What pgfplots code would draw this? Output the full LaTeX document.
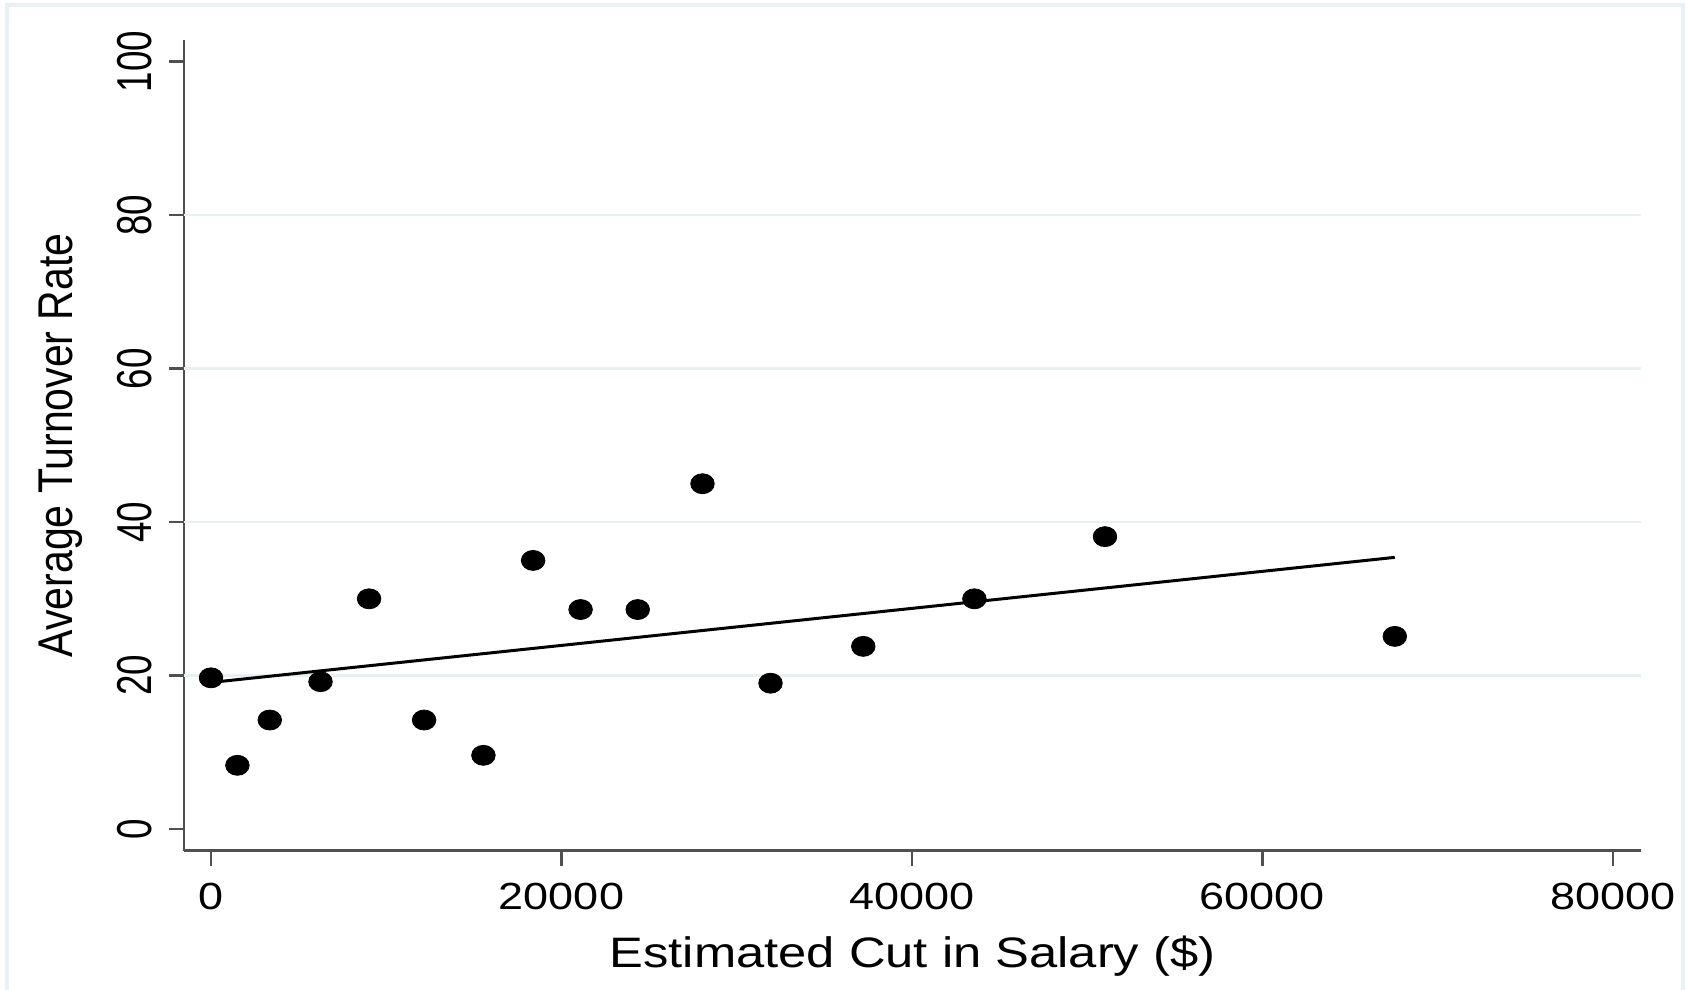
\documentclass[border=0pt]{standalone}
\usepackage{pgfplots}
\pgfplotsset{compat=1.18}
\usepackage{fontspec}
\setmainfont{Liberation Sans}[FakeStretch=1.19]
\newfontfamily\rotfont{Liberation Sans}[FakeStretch=0.84]
\newfontfamily\rotfontB{Liberation Sans}[FakeStretch=0.75]
\definecolor{gridc}{RGB}{232,240,242}
\definecolor{framec}{RGB}{234,241,243}
\definecolor{axc}{RGB}{80,80,80}

\pgfplotstableread{
x y
0 19.7
1506 8.3
3353 14.2
6248 19.2
9020 30.0
12160 14.2
15545 9.6
18380 35.0
21089 28.6
24350 28.6
28045 45.0
31926 19.0
37220 23.8
43560 30.0
51012 38.1
67550 25.1
}\pts

\pgfplotstableread{
x y
0 19.1
67550 35.4
}\fitline

\begin{document}
\begin{tikzpicture}
\useasboundingbox (-92pt,-69.65pt) rectangle (754pt,425.35pt);
\draw[framec, line width=2pt] (-88.5pt,-75pt) -- (-88.5pt,422.85pt) -- (749.5pt,422.85pt) -- (749.5pt,-75pt);
\begin{axis}[
  scale only axis,
  width=728.5pt, height=405.35pt,
  xmin=-1541, xmax=81598,
  ymin=-2.83, ymax=102.83,
  axis x line*=bottom, axis y line*=left,
  axis line style={axc, line width=1.3pt},
  scaled x ticks=false, scaled y ticks=false,
  xtick={0,20000,40000,60000,80000},
  xticklabels={0,20000,40000,60000,80000},
  ytick={0,20,40,60,80,100},
  yticklabels={0,20,40,60,80,100},
  tick align=outside,
  major tick length=7.5pt,
  tick style={axc, line width=1.3pt},
  xticklabel style={anchor=base, font=\fontsize{18.9pt}{22pt}\selectfont, text=black},
  xticklabel shift=21.8pt,
  yticklabel style={rotate=90, anchor=base, font=\rotfontB\fontsize{24.5pt}{28pt}\selectfont, text=black},
  yticklabel shift=8.6pt,
  extra y ticks={20,40,60,80},
  extra y tick labels={},
  extra y tick style={grid=major, major tick length=0pt, major grid style={gridc, line width=1.2pt}},
  every axis x label/.style={at={(axis description cs:0.5,0)}, anchor=base, yshift=-58.2pt},
  every axis y label/.style={at={(axis description cs:-0.0848,0.5)}, rotate=90, anchor=center},
  xlabel={\fontsize{21.3pt}{25pt}\selectfont Estimated Cut in Salary (\$)},
  ylabel={\rotfont\fontsize{24.4pt}{28pt}\selectfont Average Turnover Rate},
  clip=false,
]
\addplot[black, line width=1.5pt, no marks] table[x=x,y=y] {\fitline};
\addplot[only marks, mark=*, mark size=5pt, mark options={xscale=1.18, fill=black, draw=black}] table[x=x,y=y] {\pts};
\end{axis}
\end{tikzpicture}
\end{document}
